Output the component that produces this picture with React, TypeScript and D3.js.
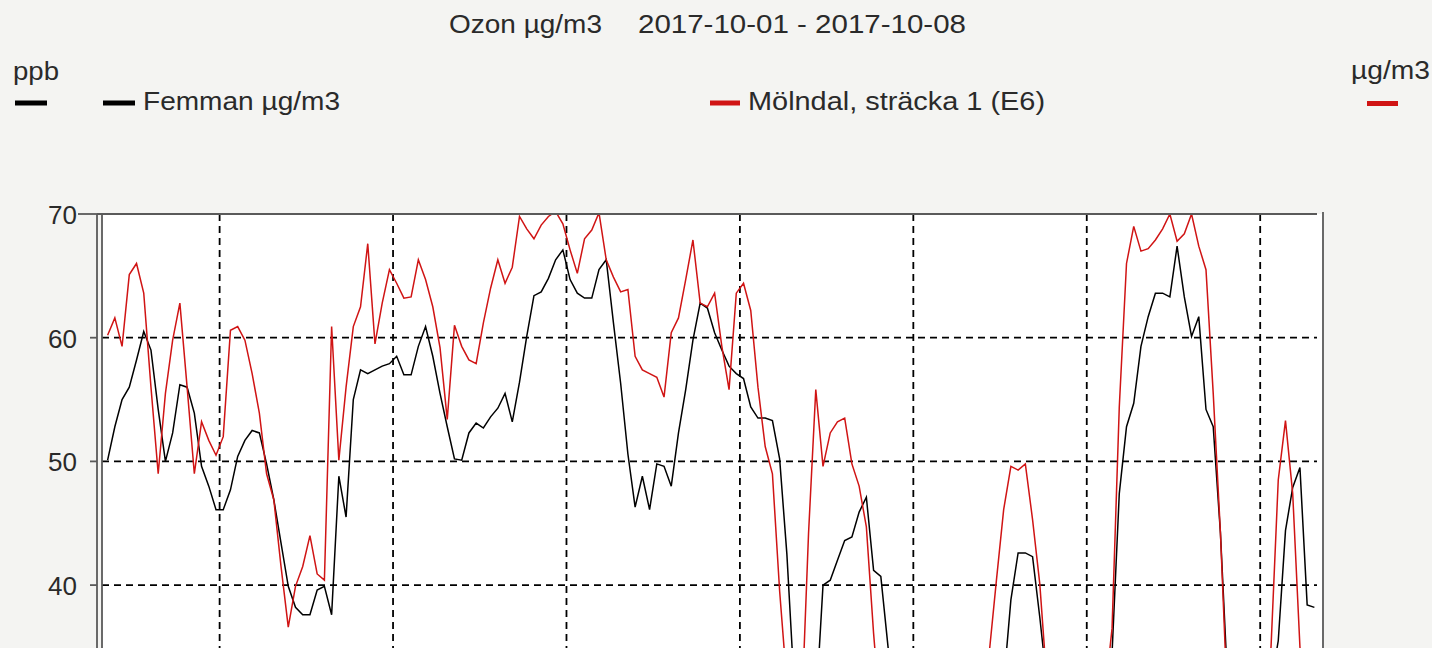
import React from 'react';
import * as d3 from 'd3';

const titleText = 'Ozon µg/m3';
const periodText = '2017-10-01 - 2017-10-08';
const leftUnit = 'ppb';
const rightUnit = 'µg/m3';
const seriesNames = ['Femman µg/m3', 'Mölndal, sträcka 1 (E6)'];
const seriesColors = ['#000000', '#d01414'];

// hourly values, first one at hour 0.5 of the window (values under ~35 fall below the visible crop)
const femman = [
  50.1, 52.8, 55.0, 56.0, 58.2, 60.5, 59.0, 54.2, 50.0, 52.3, 56.2, 56.0, 53.9, 49.6, 48.0, 46.1,
  46.1, 47.7, 50.4, 51.7, 52.5, 52.3, 49.8, 46.9, 43.4, 39.9, 38.2, 37.6, 37.6, 39.6, 39.9, 37.6,
  48.8, 45.5, 55.0, 57.4, 57.1, 57.4, 57.7, 57.9, 58.5, 57.0, 57.0, 59.3, 60.9, 58.5, 55.5, 52.8,
  50.2, 50.1, 52.3, 53.1, 52.7, 53.6, 54.3, 55.5, 53.2, 56.4, 60.1, 63.4, 63.7, 64.8, 66.3, 67.1,
  64.7, 63.6, 63.2, 63.2, 65.5, 66.3, 61.2, 56.3, 50.6, 46.3, 48.8, 46.1, 49.8, 49.6, 48.0, 52.3,
  55.8, 59.8, 62.8, 62.4, 60.4, 59.0, 57.7, 57.1, 56.7, 54.4, 53.5, 53.5, 53.3, 50.2, 42.5, 32.0,
  28.0, 27.0, 30.0, 40.0, 40.4, 42.0, 43.6, 43.9, 45.9, 47.1, 41.2, 40.7, 35.0, 30.0, 27.0, 25.0,
  24.0, 23.0, 23.0, 22.0, 22.0, 23.0, 24.0, 25.0, 26.0, 27.0, 28.0, 29.0, 32.0, 38.8, 42.6, 42.6,
  42.3, 37.4, 32.0, 29.0, 27.0, 26.0, 25.0, 26.0, 27.0, 29.0, 31.0, 34.5, 47.4, 52.8, 54.7, 59.3,
  61.7, 63.6, 63.6, 63.3, 67.4, 63.3, 60.1, 61.7, 54.2, 52.8, 44.2, 32.0, 28.0, 26.0, 26.0, 27.0,
  29.0, 32.0, 35.5, 44.4, 47.9, 49.5, 38.4, 38.2,
];

const molndal = [
  60.2, 61.6, 59.3, 65.1, 66.0, 63.6, 56.0, 49.0, 55.5, 59.8, 62.8, 56.0, 49.0, 53.2, 51.7, 50.5,
  52.0, 60.6, 60.9, 59.8, 57.1, 53.9, 49.0, 46.9, 41.5, 36.6, 39.9, 41.5, 44.0, 40.9, 40.4, 60.9,
  50.1, 56.0, 60.9, 62.5, 67.6, 59.5, 62.8, 65.5, 64.4, 63.2, 63.3, 66.3, 64.7, 62.5, 59.2, 53.4,
  61.0, 59.3, 58.2, 57.9, 61.2, 64.0, 66.3, 64.4, 65.7, 69.8, 68.8, 68.0, 69.1, 69.8, 70.2, 69.2,
  67.1, 65.2, 68.0, 68.7, 70.1, 66.3, 64.9, 63.7, 63.9, 58.5, 57.4, 57.1, 56.8, 55.2, 60.4, 61.6,
  64.7, 67.9, 62.8, 62.5, 63.6, 59.3, 55.8, 63.6, 64.4, 62.2, 56.0, 51.2, 49.0, 39.5, 32.0, 27.0,
  29.0, 44.2, 55.8, 49.6, 52.3, 53.2, 53.5, 49.8, 48.0, 44.7, 36.1, 29.0, 25.0, 23.0, 22.0, 22.0,
  23.0, 22.0, 21.0, 21.0, 22.0, 24.0, 26.0, 28.0, 30.0, 32.0, 34.5, 40.4, 46.1, 49.6, 49.3, 49.8,
  45.3, 40.1, 32.0, 27.0, 24.0, 23.0, 23.0, 25.0, 27.0, 29.0, 31.0, 36.5, 54.4, 66.0, 69.0, 67.0,
  67.2, 67.9, 68.8, 70.0, 67.8, 68.4, 70.0, 67.4, 65.5, 55.5, 44.2, 30.0, 26.0, 24.0, 24.0, 26.0,
  29.0, 35.0, 48.5, 53.3, 47.4, 35.0, 29.0, 27.0,
];

// only the ticks that are visible in the cropped picture
const yTicks = [40, 50, 60, 70];
// hour offsets of the dashed day lines
const dayLines = [16, 40, 64, 88, 112, 136, 160];

const W = 1432;
const H = 648;
const FONT = '"Liberation Sans", Arial, sans-serif';
const TEXT = '#2a2a2a';
const AXIS = '#5a5a5a';

export default function App() {
  const x = d3.scaleLinear().domain([0, 168]).range([104, 1318]);
  const y = d3.scaleLinear().domain([20, 70]).range([832.5, 214]);
  const plot = { left: 102, right: 1317, top: 214, bottom: H };

  const line = d3
    .line<number>()
    .x((_, i) => x(i + 0.5))
    .y((d) => y(d));

  const series = [femman, molndal];

  return (
    <svg
      width={W}
      height={H}
      style={{ position: 'absolute', left: 0, top: 0, background: '#f4f4f2' }}
      fontFamily={FONT}
    >
      <defs>
        <clipPath id="plotClip">
          <rect x={plot.left} y={plot.top} width={plot.right - plot.left} height={plot.bottom - plot.top} />
        </clipPath>
      </defs>

      {/* title */}
      <text x={449} y={33} fontSize={25} fill={TEXT} textLength={153} lengthAdjust="spacingAndGlyphs">
        {titleText}
      </text>
      <text x={638} y={33} fontSize={25} fill={TEXT} textLength={328} lengthAdjust="spacingAndGlyphs">
        {periodText}
      </text>

      {/* units + legend */}
      <text x={13} y={80} fontSize={25} fill={TEXT} textLength={46} lengthAdjust="spacingAndGlyphs">
        {leftUnit}
      </text>
      <rect x={15} y={100.5} width={32} height={5} fill={seriesColors[0]} />
      <text x={1351} y={79} fontSize={25} fill={TEXT} textLength={79} lengthAdjust="spacingAndGlyphs">
        {rightUnit}
      </text>
      <rect x={1367} y={101} width={31} height={5} fill={seriesColors[1]} />

      <rect x={103} y={100.5} width={32} height={5} fill={seriesColors[0]} />
      <text x={143} y={110} fontSize={25} fill={TEXT} textLength={197} lengthAdjust="spacingAndGlyphs">
        {seriesNames[0]}
      </text>
      <rect x={710} y={100.5} width={30} height={5} fill={seriesColors[1]} />
      <text x={748} y={110} fontSize={25} fill={TEXT} textLength={297} lengthAdjust="spacingAndGlyphs">
        {seriesNames[1]}
      </text>

      {/* plot area */}
      <rect x={plot.left} y={plot.top} width={1322 - plot.left} height={plot.bottom - plot.top} fill="#ffffff" />

      {/* grid */}
      {yTicks
        .filter((t) => t < 70)
        .map((t) => (
          <line
            key={'h' + t}
            x1={plot.left}
            x2={plot.right}
            y1={y(t)}
            y2={y(t)}
            stroke="#000"
            strokeWidth={1.8}
            strokeDasharray="7,5"
          />
        ))}
      {dayLines.map((h) => (
        <line
          key={'v' + h}
          x1={x(h)}
          x2={x(h)}
          y1={plot.top}
          y2={plot.bottom}
          stroke="#000"
          strokeWidth={1.8}
          strokeDasharray="7,5"
        />
      ))}

      {/* series */}
      <g clipPath="url(#plotClip)">
        {series.map((s, k) => (
          <path
            key={k}
            d={line(s) || ''}
            fill="none"
            stroke={seriesColors[k]}
            strokeWidth={1.5}
            strokeLinejoin="miter"
          />
        ))}
      </g>

      {/* frame and axes */}
      <line x1={97} x2={plot.right} y1={plot.top} y2={plot.top} stroke={AXIS} strokeWidth={1.8} />
      <line x1={97} x2={97} y1={plot.top} y2={plot.bottom} stroke={AXIS} strokeWidth={1.8} />
      <line x1={plot.left} x2={plot.left} y1={plot.top} y2={plot.bottom} stroke={AXIS} strokeWidth={1.8} />
      <line x1={1323} x2={1323} y1={212} y2={plot.bottom} stroke={AXIS} strokeWidth={1.8} />

      {yTicks.map((t) => (
        <g key={'t' + t}>
          <line x1={t === 70 ? 78 : 90} x2={97} y1={y(t)} y2={y(t)} stroke={AXIS} strokeWidth={1.8} />
          <text x={77} y={y(t) + 10} fontSize={26} fill={TEXT} textAnchor="end">
            {t}
          </text>
        </g>
      ))}
    </svg>
  );
}
